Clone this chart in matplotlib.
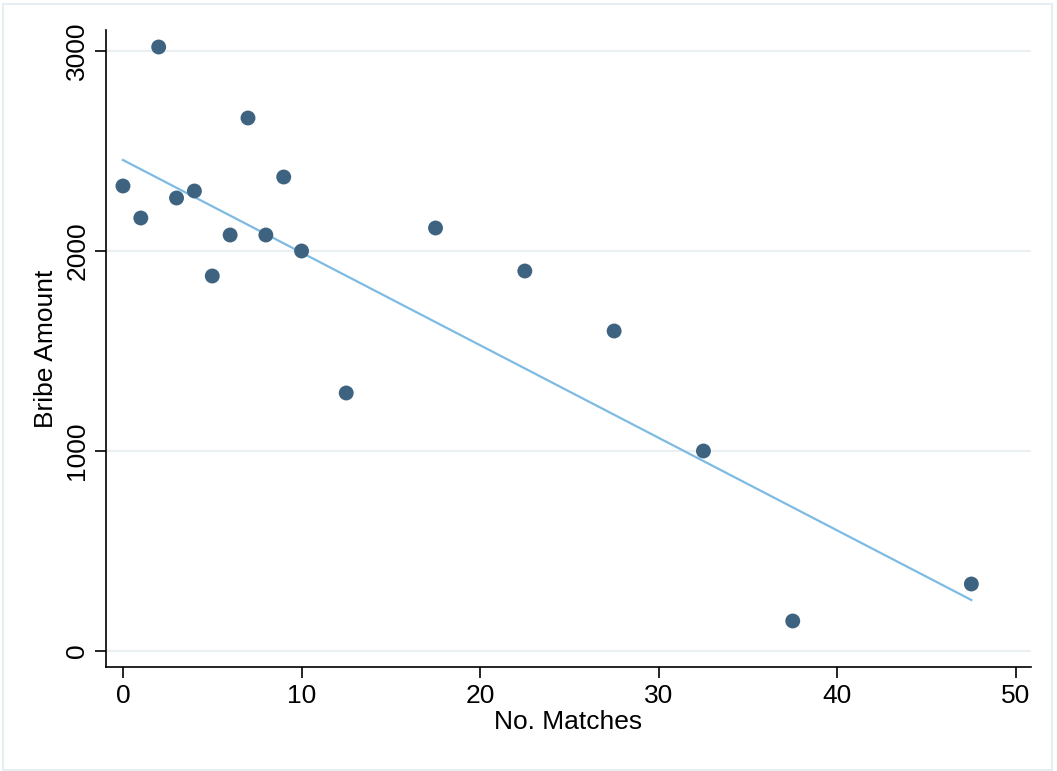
import matplotlib
matplotlib.use("Agg")
import matplotlib.pyplot as plt
from matplotlib.patches import Rectangle

matches = [0, 1, 2, 3, 4, 5, 6, 7, 8, 9, 10, 12.5, 17.5, 22.5, 27.5, 32.5, 37.5, 47.5]
bribe = [2325, 2165, 3020, 2265, 2300, 1875, 2080, 2665, 2080, 2370, 2000,
         1290, 2115, 1900, 1600, 1000, 150, 335]

# fitted line end points
fit_x = [0, 47.5]
fit_y = [2455, 255]

x_ticks = [0, 10, 20, 30, 40, 50]
y_ticks = [0, 1000, 2000, 3000]

plt.rcParams['font.family'] = ['Liberation Sans', 'DejaVu Sans']

fig = plt.figure(figsize=(10.57, 7.71), dpi=100)
fig.patches.append(Rectangle((3 / 1057, 1 / 771), 1049 / 1057, 766 / 771,
                             transform=fig.transFigure, fill=False,
                             edgecolor='#e6eef2', linewidth=1.5))
ax = fig.add_axes([106 / 1057, 104 / 771, 925 / 1057, 637 / 771])

ax.plot(fit_x, fit_y, color='#7dbbe3', linewidth=1.6, zorder=2)
ax.scatter(matches, bribe, s=115, color='#3e6380', edgecolors='none', zorder=3)

ax.set_xlim(-0.95, 50.84)
ax.set_ylim(-80, 3105)
ax.set_xticks(x_ticks)
ax.set_yticks(y_ticks)
ax.grid(axis='y', color='#eaf0f2', linewidth=1.5)
ax.set_axisbelow(True)
for s in ['top', 'right']:
    ax.spines[s].set_visible(False)
ax.spines['left'].set_linewidth(1.2)
ax.spines['bottom'].set_linewidth(1.2)
ax.tick_params(direction='out', length=8, width=1.2, labelsize=19, pad=4)
plt.setp(ax.get_yticklabels(), rotation=90, va='center')
ax.set_xlabel('No. Matches', fontsize=19, labelpad=2)
ax.set_ylabel('Bribe Amount', fontsize=19, labelpad=5)

fig.savefig('out.png', dpi=100)
